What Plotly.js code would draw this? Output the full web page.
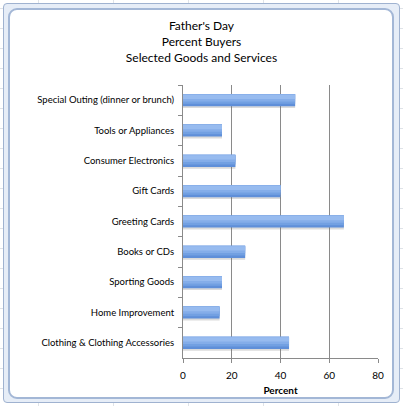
<!DOCTYPE html>
<html>
<head>
<meta charset="utf-8">
<script src="https://cdn.plot.ly/plotly-3.0.1.min.js"></script>
<style>
  html, body { margin: 0; padding: 0; }
  body {
    width: 403px; height: 406px; position: relative; overflow: hidden;
    background-color: #ffffff;
    background-image:
      linear-gradient(to right, #dfe3e8 1px, transparent 1px),
      linear-gradient(to bottom, #dfe3e8 1px, transparent 1px);
    background-size: 75px 20px;
    background-position: 38px 8px;
  }
  #outer {
    position: absolute; left: 3px; top: 3px; width: 395px; height: 398px;
    border: 1px solid #9fb2d0; border-radius: 4px; background: #e6edf7;
  }
  #inner {
    position: absolute; left: 8px; top: 8px; width: 382px; height: 387px;
    border: 2px solid #a3b7d6; border-radius: 9px; background: #ffffff;
  }
  #chart { position: absolute; left: 0; top: 0; width: 403px; height: 406px; }
</style>
</head>
<body>
<div id="outer"></div>
<div id="inner"></div>
<div id="chart"></div>
<script>
// Father's Day - percent buyers by category (top to bottom)
let categorias = [
    "Special Outing (dinner or brunch)",
    "Tools or Appliances",
    "Consumer Electronics",
    "Gift Cards",
    "Greeting Cards",
    "Books or CDs",
    "Sporting Goods",
    "Home Improvement",
    "Clothing & Clothing Accessories"
];
let percentuais = [46, 16, 21.5, 40, 66, 25.5, 16, 15, 43.5];

let xTicks = [0, 20, 40, 60, 80];

/* =========================================
   BARRAS (camadas para imitar o degradê do Excel)
========================================= */

function camada(cor, offset, largura){
    return {
        type: "bar",
        orientation: "h",
        x: percentuais,
        y: categorias,
        offset: offset,
        width: largura,
        marker: { color: cor, line: { width: 0 } },
        hoverinfo: "skip",
        showlegend: false
    };
}

let traces = [
    camada("rgba(110,110,110,0.25)", -0.16, 0.42),
    camada("#5f8fd9", -0.2, 0.4),
    camada("#72a0e2", -0.2, 0.32),
    camada("#84ade9", -0.2, 0.24),
    camada("#97bbef", -0.18, 0.14)
];

let layout = {
    width: 403,
    height: 406,
    paper_bgcolor: "rgba(0,0,0,0)",
    plot_bgcolor: "rgba(0,0,0,0)",
    barmode: "overlay",
    font: { family: "Lato, 'Open Sans', sans-serif", size: 9.5, color: "#000000" },

    title: {
        text: "Father's Day<br>Percent Buyers<br>Selected Goods and Services",
        x: 0.5,
        xref: "container",
        y: 0.925,
        yref: "container",
        yanchor: "middle",
        font: { family: "Lato, 'Open Sans', sans-serif", size: 12, color: "#000000" }
    },

    margin: { t: 85, l: 183, r: 25, b: 48 },

    xaxis: {
        range: [0, 80],
        tickvals: xTicks,
        ticktext: xTicks.map(String),
        tickfont: { size: 10 },
        showgrid: true,
        gridcolor: "#8a8a8a",
        gridwidth: 1,
        zeroline: false,
        showline: true,
        linecolor: "#8a8a8a",
        ticks: "outside",
        ticklen: 4,
        tickcolor: "#8a8a8a",
        ticklabelstandoff: 4,
        title: {
            text: "<b>Percent</b>",
            standoff: 6,
            font: { size: 10 }
        },
        fixedrange: true
    },

    yaxis: {
        type: "category",
        autorange: "reversed",
        showgrid: false,
        zeroline: false,
        showline: true,
        linecolor: "#8a8a8a",
        ticks: "outside",
        tickson: "boundaries",
        ticklen: 4,
        tickcolor: "#8a8a8a",
        ticklabelstandoff: 6,
        fixedrange: true
    }
};

Plotly.newPlot("chart", traces, layout, { displayModeBar: false, staticPlot: true });
</script>
</body>
</html>
